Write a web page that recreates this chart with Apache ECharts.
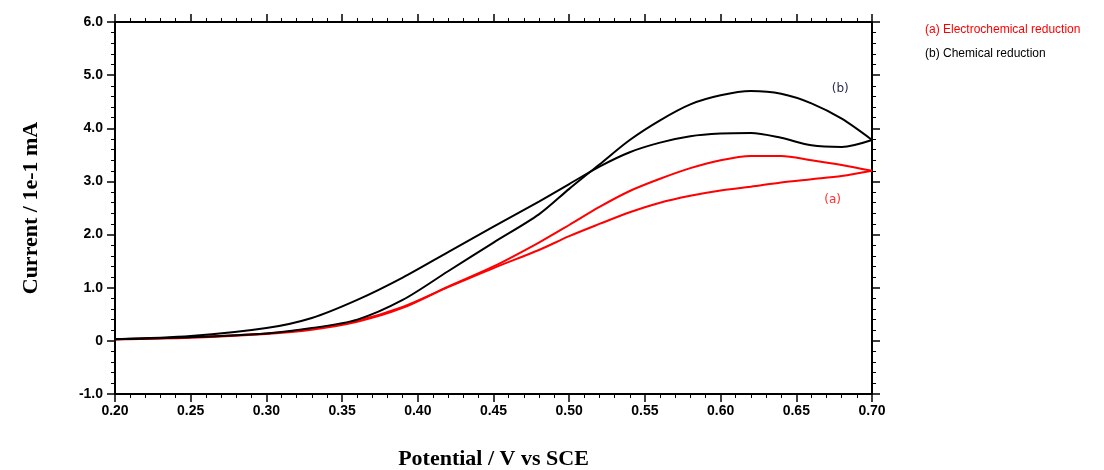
<!DOCTYPE html>
<html>
<head>
<meta charset="utf-8">
<script src="https://cdn.jsdelivr.net/npm/echarts@6/dist/echarts.min.js"></script>
<style>
  html, body { margin: 0; padding: 0; background: #fff; }
  #main { width: 1104px; height: 470px; }
</style>
</head>
<body>
<div id="main"></div>
<script>
// potential (V vs SCE) sampled along each branch
var potential = [0.20, 0.25, 0.30, 0.33, 0.36, 0.39, 0.42, 0.45, 0.48, 0.50,
                 0.52, 0.54, 0.56, 0.58, 0.60, 0.62, 0.64, 0.66, 0.68, 0.70];

// (a) electrochemical reduction, forward and reverse scan (1e-1 mA)
var redForward = [0.03, 0.06, 0.13, 0.21, 0.36, 0.62, 1.02, 1.40, 1.85, 2.18,
                  2.52, 2.82, 3.05, 3.25, 3.40, 3.48, 3.48, 3.40, 3.31, 3.20];
var redReverse = [0.03, 0.07, 0.14, 0.23, 0.38, 0.64, 1.01, 1.37, 1.71, 1.97,
                  2.20, 2.42, 2.60, 2.73, 2.83, 2.90, 2.98, 3.04, 3.10, 3.20];

// (b) chemical reduction
var blackForward = [0.03, 0.07, 0.14, 0.24, 0.40, 0.77, 1.31, 1.85, 2.38, 2.86,
                    3.32, 3.78, 4.15, 4.45, 4.62, 4.70, 4.65, 4.47, 4.18, 3.78];
var blackReverse = [0.03, 0.09, 0.24, 0.43, 0.77, 1.19, 1.67, 2.15, 2.62, 2.95,
                    3.28, 3.55, 3.73, 3.85, 3.90, 3.91, 3.82, 3.68, 3.65, 3.78];

var xTicks = [0.20, 0.25, 0.30, 0.35, 0.40, 0.45, 0.50, 0.55, 0.60, 0.65, 0.70];
var yTicks = [-1, 0, 1, 2, 3, 4, 5, 6];

function pairs(ys) {
  return potential.map(function (x, i) { return [x, ys[i]]; });
}

var myChart = echarts.init(document.getElementById('main'));

var tickStyle = { show: true, inside: false, length: 8, lineStyle: { color: '#000', width: 1.5 } };
var minorStyle = { show: true, splitNumber: 5, length: 4, lineStyle: { color: '#000', width: 1 } };
var lineAxis = { show: true, onZero: false, lineStyle: { color: '#000', width: 2 } };
var labelFont = { color: '#000', fontFamily: 'Liberation Sans', fontWeight: 'bold', fontSize: 14 };

function branch(name, ys, color) {
  return {
    name: name,
    type: 'line',
    data: pairs(ys),
    smooth: 0.3,
    showSymbol: false,
    lineStyle: { color: color, width: 2 },
    itemStyle: { color: color },
    z: 3
  };
}

var series = [
  branch('a-forward', redForward, '#ff0000'),
  branch('a-reverse', redReverse, '#ff0000'),
  branch('b-forward', blackForward, '#000000'),
  branch('b-reverse', blackReverse, '#000000')
];

series[0].markPoint = {
  symbol: 'circle', symbolSize: 0,
  data: [{ coord: [0.674, 2.65], value: '(a)' }],
  label: { show: true, formatter: '(a)', color: '#ff3030', fontFamily: 'DejaVu Sans', fontSize: 12 }
};
series[2].markPoint = {
  symbol: 'circle', symbolSize: 0,
  data: [{ coord: [0.679, 4.75], value: '(b)' }],
  label: { show: true, formatter: '(b)', color: '#2b2b50', fontFamily: 'DejaVu Sans', fontSize: 12 }
};

var option = {
  backgroundColor: '#fff',
  animation: false,
  grid: { left: 115, right: 232, top: 22, bottom: 76, outerBoundsMode: 'none', containLabel: false },
  xAxis: [{
    type: 'value', position: 'bottom',
    min: 0.2, max: 0.7, interval: 0.05,
    axisLine: lineAxis,
    axisTick: tickStyle,
    minorTick: minorStyle,
    splitLine: { show: false },
    axisLabel: Object.assign({ margin: 10, formatter: function (v) { return v.toFixed(2); } }, labelFont),
    name: 'Potential / V vs SCE',
    nameLocation: 'middle',
    nameGap: 54,
    nameTextStyle: { color: '#000', fontFamily: 'Liberation Serif', fontWeight: 'bold', fontSize: 22 }
  }, {
    type: 'value', position: 'top',
    min: 0.2, max: 0.7, interval: 0.05,
    axisLine: lineAxis,
    axisTick: tickStyle,
    minorTick: minorStyle,
    splitLine: { show: false },
    axisLabel: { show: false }
  }],
  yAxis: [{
    type: 'value', position: 'left',
    min: -1, max: 6, interval: 1,
    axisLine: lineAxis,
    axisTick: tickStyle,
    minorTick: minorStyle,
    splitLine: { show: false },
    axisLabel: Object.assign({ margin: 12, formatter: function (v) { return v === 0 ? '0' : v.toFixed(1); } }, labelFont),
    name: 'Current / 1e-1 mA',
    nameLocation: 'middle',
    nameGap: 73,
    nameTextStyle: { color: '#000', fontFamily: 'Liberation Serif', fontWeight: 'bold', fontSize: 22 }
  }, {
    type: 'value', position: 'right',
    min: -1, max: 6, interval: 1,
    axisLine: lineAxis,
    axisTick: tickStyle,
    minorTick: minorStyle,
    splitLine: { show: false },
    axisLabel: { show: false }
  }],
  graphic: [
    { type: 'text', left: 925, top: 24, style: { text: '(a) Electrochemical reduction', fill: '#ff0000', font: '12px "Liberation Sans"' } },
    { type: 'text', left: 925, top: 48, style: { text: '(b) Chemical reduction', fill: '#000', font: '12px "Liberation Sans"' } }
  ],
  series: series
};

myChart.setOption(option);
</script>
</body>
</html>
